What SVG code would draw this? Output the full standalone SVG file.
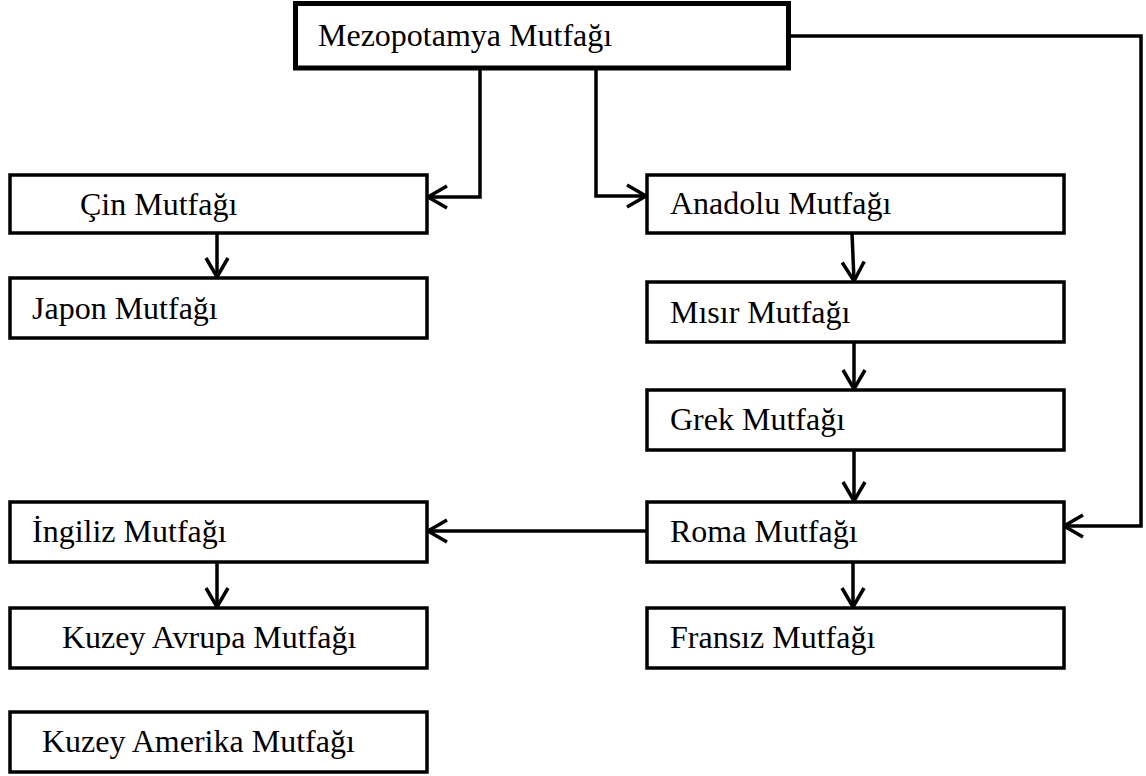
<svg xmlns="http://www.w3.org/2000/svg" width="1146" height="776" viewBox="0 0 1146 776">
  <style>
    .box { fill: #ffffff; stroke: #000000; stroke-width: 3.5; }
    .root { fill: #ffffff; stroke: #000000; stroke-width: 5; }
    .lbl { font-family: "Liberation Serif", "Times New Roman", serif; font-size: 32px; fill: #000000; }
    .wire { fill: none; stroke: #000000; stroke-width: 3.5; }
  </style>
  <defs>
    <marker id="chev" markerUnits="userSpaceOnUse" viewBox="-22 -13 24 26" refX="0" refY="0" markerWidth="24" markerHeight="26" orient="auto" overflow="visible">
      <path d="M -19 -11 L 0 0 L -19 11" fill="none" stroke="#000000" stroke-width="3.5" stroke-linejoin="miter"/>
    </marker>
  </defs>
  <rect width="1146" height="776" fill="#ffffff"/>

  <!-- connectors -->
  <g id="connectors" class="wire">
    <path d="M 480 68 V 197 H 428" marker-end="url(#chev)"/>
    <path d="M 596 68 V 196 H 646" marker-end="url(#chev)"/>
    <path d="M 790 36 H 1141 V 526 H 1064" marker-end="url(#chev)"/>
    <path d="M 217 233 V 277" marker-end="url(#chev)"/>
    <path d="M 852 233 L 854 281" marker-end="url(#chev)"/>
    <path d="M 854 342 V 389" marker-end="url(#chev)"/>
    <path d="M 854 450 V 501" marker-end="url(#chev)"/>
    <path d="M 647 531 H 428" marker-end="url(#chev)"/>
    <path d="M 853 562 V 607" marker-end="url(#chev)"/>
    <path d="M 217 562 V 607" marker-end="url(#chev)"/>
  </g>

  <g id="mezopotamya">
    <rect class="root" x="295.5" y="3.5" width="493" height="64.5"/>
    <text class="lbl" x="318" y="46">Mezopotamya Mutfağı</text>
  </g>
  <g id="cin">
    <rect class="box" x="10" y="175" width="417" height="58"/>
    <text class="lbl" x="80" y="215">Çin Mutfağı</text>
  </g>
  <g id="japon">
    <rect class="box" x="10" y="278" width="417" height="60"/>
    <text class="lbl" x="32" y="319">Japon Mutfağı</text>
  </g>
  <g id="anadolu">
    <rect class="box" x="647" y="175" width="417" height="58"/>
    <text class="lbl" x="670" y="214">Anadolu Mutfağı</text>
  </g>
  <g id="misir">
    <rect class="box" x="647" y="282" width="417" height="60"/>
    <text class="lbl" x="670" y="323">Mısır Mutfağı</text>
  </g>
  <g id="grek">
    <rect class="box" x="647" y="390" width="417" height="60"/>
    <text class="lbl" x="670" y="430">Grek Mutfağı</text>
  </g>
  <g id="roma">
    <rect class="box" x="647" y="502" width="417" height="60"/>
    <text class="lbl" x="670" y="542">Roma Mutfağı</text>
  </g>
  <g id="fransiz">
    <rect class="box" x="647" y="608" width="417" height="60"/>
    <text class="lbl" x="670" y="648">Fransız Mutfağı</text>
  </g>
  <g id="ingiliz">
    <rect class="box" x="10" y="502" width="417" height="60"/>
    <text class="lbl" x="32" y="542">İngiliz Mutfağı</text>
  </g>
  <g id="kuzey-avrupa">
    <rect class="box" x="10" y="608" width="417" height="60"/>
    <text class="lbl" x="62" y="648">Kuzey Avrupa Mutfağı</text>
  </g>
  <g id="kuzey-amerika">
    <rect class="box" x="10" y="712" width="417" height="60"/>
    <text class="lbl" x="42" y="752">Kuzey Amerika Mutfağı</text>
  </g>
</svg>
